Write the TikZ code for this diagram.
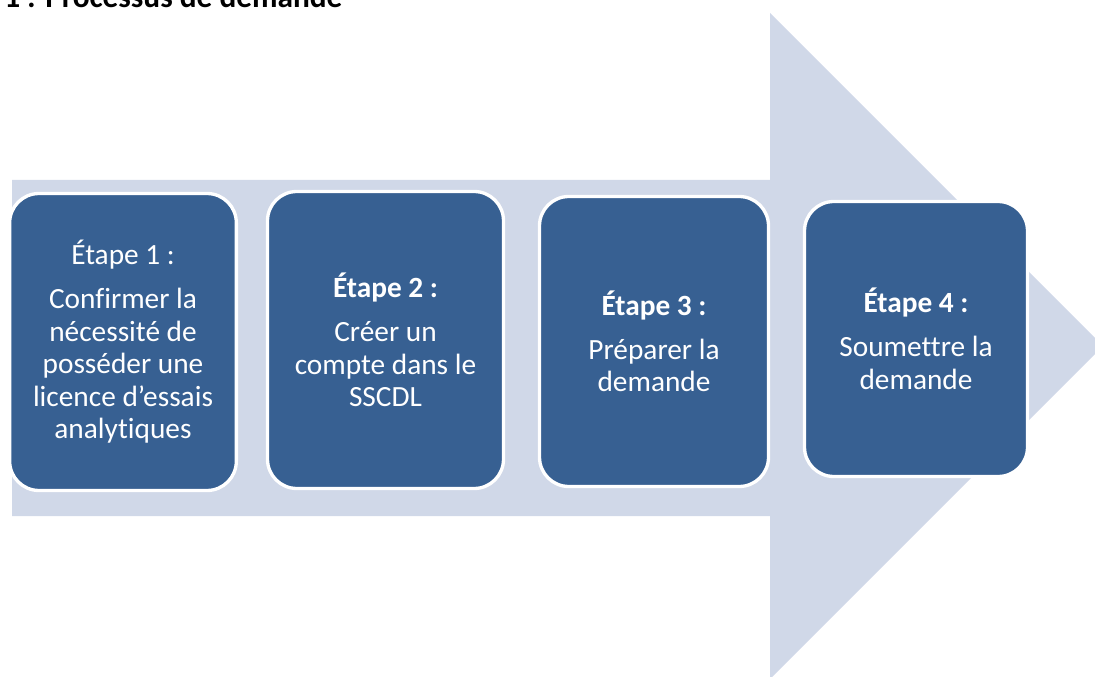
\documentclass[tikz,border=0pt]{standalone}
\usepackage{fontspec}
\setmainfont{Carlito}[Ligatures=NoCommon]
\definecolor{stepblue}{RGB}{55,96,146}
\definecolor{arrowgrey}{RGB}{208,216,232}
\tikzset{
  stepbox/.style={draw=white, line width=2.5pt, fill=stepblue, rounded corners=22pt,
    text=white, align=center, inner sep=0pt, font=\fontsize{22}{24.4}\selectfont},
}
\begin{document}
\begin{tikzpicture}[x=0.75pt,y=-0.75pt]
\clip (0,0) rectangle (1095,677);
\node[anchor=base west, inner sep=0pt, font=\fontsize{23.5}{28}\selectfont\bfseries] (title) at (4,8) {1 : Processus de demande};
% the big arrow behind the steps
\fill[arrowgrey] (12,180) -- (770,180) -- (770,13) -- (1103,346) -- (770,679) -- (770,516) -- (12,516) -- cycle;
\node[stepbox, minimum width=170pt, minimum height=222.75pt] (step1) at (123,342)
  {Étape 1 :\\[8.6pt] Confirmer la\\ nécessité de\\ posséder une\\ licence d’essais\\ analytiques};
\node[stepbox, minimum width=177pt, minimum height=222.75pt] (step2) at (385.5,340)
  {\textbf{Étape 2 :}\\[8.6pt] Créer un\\ compte dans le\\ SSCDL};
\node[stepbox, minimum width=171.75pt, minimum height=217.5pt] (step3) at (654,341.5)
  {\textbf{Étape 3 :}\\[8.6pt] Préparer la\\ demande};
\node[stepbox, minimum width=167.25pt, minimum height=206.25pt] (step4) at (916,339)
  {\textbf{Étape 4 :}\\[8.6pt] Soumettre la\\ demande};
\end{tikzpicture}
\end{document}
